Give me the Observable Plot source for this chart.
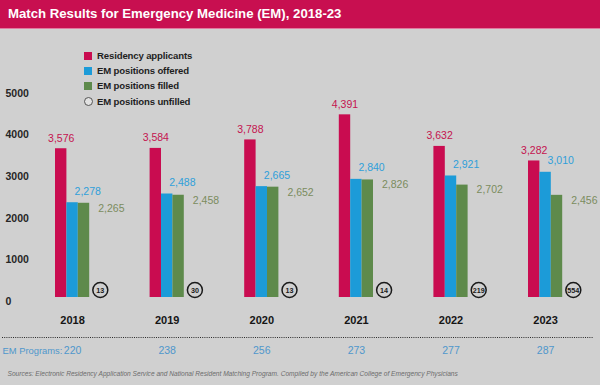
<!DOCTYPE html>
<html>
<head>
<meta charset="utf-8">
<script src="https://cdn.jsdelivr.net/npm/d3@7"></script>
<script src="https://cdn.jsdelivr.net/npm/@observablehq/plot@0.6"></script>
<style>
  html, body { margin: 0; padding: 0; background: #d0d0d0; }
  #root { position: relative; width: 600px; height: 385px; background: #d0d0d0; overflow: hidden;
          font-family: "Liberation Sans", sans-serif; }
  #title { height: 28px; line-height: 28px; background: #c80f50; color: #fff; font-weight: bold;
           font-size: 13.2px; padding-left: 8px; border-bottom: 1px solid #e07aa0; box-sizing: content-box; }
  #legend { position: absolute; left: 84px; top: 48px; font-weight: bold; font-size: 9.6px; letter-spacing: -0.15px; color: #1e1e1e; }
  #legend .row { height: 15.2px; display: flex; align-items: center; }
  #legend .sw { width: 8px; height: 8px; margin-right: 5px; }
  #legend .ci { width: 7px; height: 7px; border: 1px solid #555; border-radius: 50%; margin-right: 4px; background: #e2e2e2; }
  #chart { position: absolute; left: 0; top: 29px; }
</style>
</head>
<body>
<div id="root">
  <div id="title"></div>
  <div id="chart"></div>
  <div id="legend"></div>
</div>
<script>
const titleText = "Match Results for Emergency Medicine (EM), 2018-23";
const years = ["2018", "2019", "2020", "2021", "2022", "2023"];
const applicants = [3576, 3584, 3788, 4391, 3632, 3282];
const offered = [2278, 2488, 2665, 2840, 2921, 3010];
const filled = [2265, 2458, 2652, 2826, 2702, 2456];
const unfilled = [13, 30, 13, 14, 219, 554];
const programs = [220, 238, 256, 273, 277, 287];
const yTicks = [0, 1000, 2000, 3000, 4000, 5000];
const seriesNames = ["Residency applicants", "EM positions offered", "EM positions filled", "EM positions unfilled"];
const programsLabel = "EM Programs:";
const sourceText = "Sources: Electronic Residency Application Service and National Resident Matching Program. Compiled by the American College of Emergency Physicians";

const RED = "#c90c50", BLUE = "#1c9bd8", GREEN = "#5e8a4b";
const RED_T = "#c4134f", BLUE_T = "#2f9fda", GREEN_T = "#7b8c5e";
const FONT = "\"Liberation Sans\", sans-serif";

const rows = years.map((year, i) => ({
  year, applicants: applicants[i], offered: offered[i], filled: filled[i],
  unfilled: unfilled[i], programs: programs[i]
}));
const fmt = d3.format(",");

document.getElementById("title").textContent = titleText;

// legend
const legend = document.getElementById("legend");
const swatchColors = [RED, BLUE, GREEN, null];
seriesNames.forEach((name, i) => {
  const row = document.createElement("div");
  row.className = "row";
  const sw = document.createElement("div");
  if (swatchColors[i]) { sw.className = "sw"; sw.style.background = swatchColors[i]; }
  else { sw.className = "ci"; }
  const t = document.createElement("span");
  t.textContent = name;
  row.appendChild(sw); row.appendChild(t);
  legend.appendChild(row);
});

const BW = 34.2;        // band width (three bars)
const BAR = BW / 3;     // single bar width

const chart = Plot.plot({
  width: 600,
  height: 356,
  marginLeft: 2,
  marginRight: 7,
  marginTop: 60,
  marginBottom: 88,
  style: { background: "transparent", fontFamily: FONT, overflow: "visible" },
  x: { type: "band", domain: years, range: [55, 562.2], paddingInner: 0.6385, paddingOuter: 0, round: false, axis: null },
  y: { domain: [0, 5000], axis: null },
  marks: [
    // y tick labels
    Plot.text(yTicks, { y: d => d, text: d => String(d), frameAnchor: "left", textAnchor: "start", dx: 3, dy: 4, fontSize: 10.5, fill: "#262626", fontWeight: 600 }),
    // bars
    Plot.barY(rows, { x: "year", y: "applicants", fill: RED, insetRight: 2 * BAR }),
    Plot.barY(rows, { x: "year", y: "offered", fill: BLUE, insetLeft: BAR, insetRight: BAR }),
    Plot.barY(rows, { x: "year", y: "filled", fill: GREEN, insetLeft: 2 * BAR }),
    // value labels
    Plot.text(rows, { x: "year", y: "applicants", text: d => fmt(d.applicants), dx: -BAR, dy: -10.5, fill: RED_T, fontSize: 10.5 }),
    Plot.text(rows, { x: "year", y: "offered", text: d => fmt(d.offered), textAnchor: "start", dx: 2, dy: -11.5, fill: BLUE_T, fontSize: 10.5 }),
    Plot.text(rows, { x: "year", y: "filled", text: d => fmt(d.filled), textAnchor: "start", dx: BW / 2 + 8.5, dy: 5, fill: GREEN_T, fontSize: 10.5 }),
    // unfilled circles
    Plot.dot(rows, { x: "year", y: () => 0, r: 7.5, dx: BAR + 16.3, dy: -7.5, stroke: "#1a1a1a", strokeWidth: 1.5, fill: "none" }),
    Plot.text(rows, { x: "year", y: () => 0, text: d => String(d.unfilled), dx: BAR + 16.3, dy: -7.3, fontSize: 7.2, fontWeight: "bold", fill: "#1a1a1a" }),
    // year labels
    Plot.text(rows, { x: "year", text: "year", frameAnchor: "bottom", dy: 26, fontSize: 11, fontWeight: "bold", fill: "#151515" }),
    // dotted separator
    Plot.ruleY([0], { dy: 40, stroke: "#2a2a2a", strokeWidth: 1, strokeDasharray: "1,1.2" }),
    // programs row
    Plot.text([programsLabel], { text: d => d, frameAnchor: "bottom-left", textAnchor: "start", dy: 56, fontSize: 9.4, fill: "#4f97cc" }),
    Plot.text(rows, { x: "year", text: d => String(d.programs), frameAnchor: "bottom", dy: 56, fontSize: 10.5, fill: "#4f97cc" }),
    // source
    Plot.text([sourceText], { text: d => d, frameAnchor: "bottom-left", textAnchor: "start", dx: 5, dy: 78, fontSize: 6.6, fontStyle: "italic", fill: "#6c6c6c" })
  ]
});
document.getElementById("chart").appendChild(chart);
</script>
</body>
</html>
